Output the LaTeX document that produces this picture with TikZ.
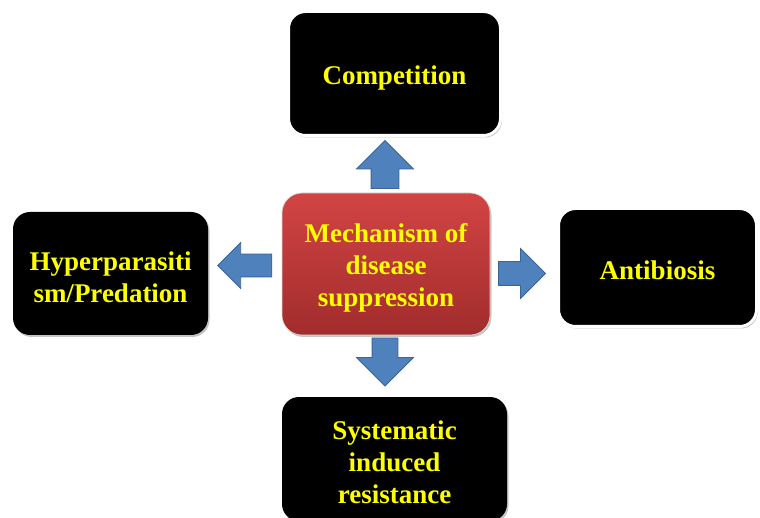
\documentclass[tikz,border=0pt]{standalone}
\usepackage{fontspec}
\setmainfont{Liberation Serif}
\usetikzlibrary{shapes.arrows, shadows}

\definecolor{labyellow}{HTML}{FFFF00}
\definecolor{arrblue}{HTML}{4F81BD}
\definecolor{arrline}{HTML}{3A6496}
\definecolor{redtop}{HTML}{D24444}
\definecolor{redbot}{HTML}{A22C2C}

\begin{document}
\begin{tikzpicture}[x=1pt, y=-1pt,
            card/.style={rounded corners=17pt, inner sep=0pt, align=center,
                         text=labyellow, font=\bfseries\fontsize{27}{32}\selectfont,
                         drop shadow={shadow xshift=1.5pt, shadow yshift=-2pt,
                                      fill=black!45, opacity=0.5}},
            box/.style={card, fill=black},
            rim/.style={box, draw=white, line width=3pt},
            hub/.style={card, rounded corners=20pt, top color=redtop,
                        bottom color=redbot, draw=black!15, line width=0.6pt},
            blk/.style={single arrow, draw=arrline, fill=arrblue, line width=0.8pt,
                        inner xsep=0pt, single arrow tip angle=90}
        ]

        \useasboundingbox (0,0) rectangle (760,518);

        % Nodes
        \node[hub, minimum width=208pt, minimum height=142pt] (mech) at (386,264)
            {\rule{0pt}{27pt}Mechanism of\\disease\\suppression};
        \node[rim, minimum width=212pt, minimum height=124pt] (comp) at (394.5,73.5)
            {\rule{0pt}{27pt}Competition};
        \node[rim, minimum width=198pt, minimum height=118pt] (anti) at (657.5,267.5)
            {\rule{0pt}{25pt}Antibiosis};
        \node[box, minimum width=195pt, minimum height=123pt] (hyper) at (110.5,273.5)
            {\rule{0pt}{27pt}Hyperparasiti\\sm/Predation};
        \node[box, minimum width=225pt, minimum height=124pt] (sir) at (394.5,459)
            {\rule{0pt}{25pt}Systematic\\induced\\resistance};

        % Block arrows
        \node[blk, rotate=90, minimum height=48pt, inner ysep=13.5pt,
              single arrow head extend=14.5pt] (toComp) at (385,171.5) {};
        \node[blk, rotate=270, minimum height=48pt, inner ysep=12.5pt,
              single arrow head extend=15.5pt] (toSir) at (385,355.5) {};
        \node[blk, rotate=180, minimum height=54pt, inner ysep=11pt,
              single arrow head extend=11.5pt] (toHyper) at (250.5,265.5) {};
        \node[blk, minimum height=47pt, inner ysep=11.5pt,
              single arrow head extend=13pt] (toAnti) at (516,273.5) {};

\end{tikzpicture}
\end{document}
